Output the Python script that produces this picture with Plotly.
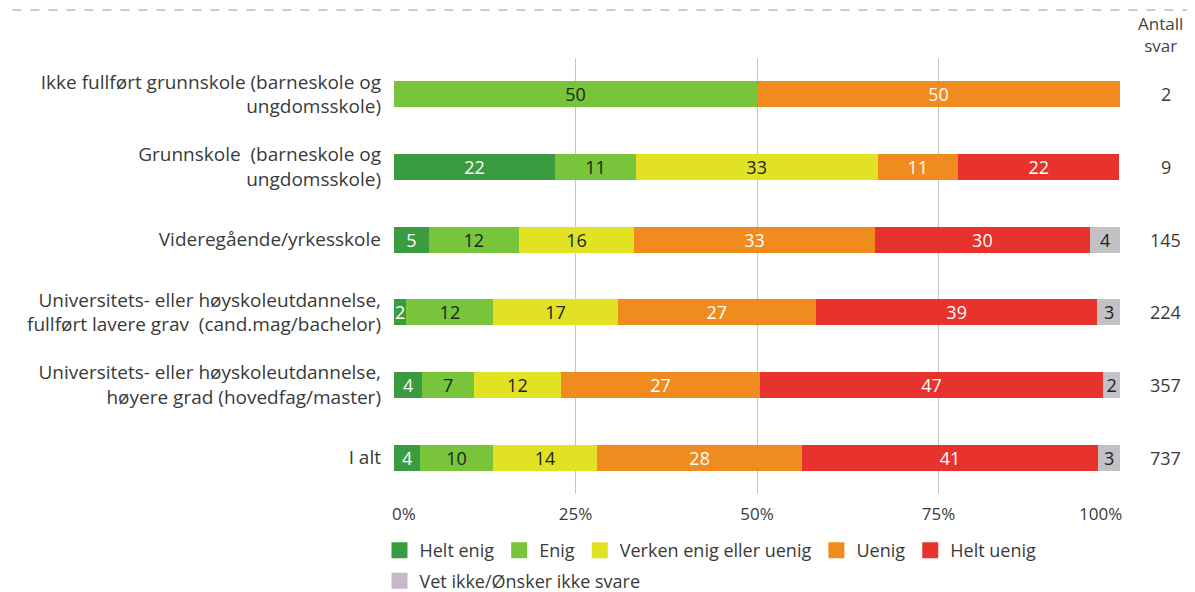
import plotly.graph_objects as go

categories = [
    "Ikke fullført grunnskole (barneskole og<br>ungdomsskole)",
    "Grunnskole  (barneskole og<br>ungdomsskole)",
    "Videregående/yrkesskole",
    "Universitets- eller høyskoleutdannelse,<br>fullført lavere grav  (cand.mag/bachelor)",
    "Universitets- eller høyskoleutdannelse,<br>høyere grad (hovedfag/master)",
    "I alt",
]
antall_svar = [2, 9, 145, 224, 357, 737]

series_names = ["Helt enig", "Enig", "Verken enig eller uenig", "Uenig", "Helt uenig",
                "Vet ikke/Ønsker ikke svare"]
helt_enig = [0, 22.2, 4.8, 1.7, 3.9, 3.6]
enig = [50, 11.1, 12.4, 12.0, 7.1, 10.0]
verken = [0, 33.3, 15.9, 17.1, 12.0, 14.4]
uenig = [50, 11.1, 33.1, 27.3, 27.4, 28.2]
helt_uenig = [0, 22.2, 29.7, 38.8, 47.3, 40.8]
vet_ikke = [0, 0, 4.1, 3.2, 2.3, 3.0]
series_values = [helt_enig, enig, verken, uenig, helt_uenig, vet_ikke]

tick_vals = [0, 25, 50, 75, 100]
tick_text = ["0%", "25%", "50%", "75%", "100%"]

bar_colors = ["#3b9b40", "#78c43a", "#e2e225", "#f08c1f", "#e8322d", "#c3c0c6"]
legend_colors = ["#3b9b40", "#78c43a", "#e2e225", "#f08c1f", "#e8322d", "#c4b9c8"]
text_colors = ["white", "#222222", "#222222", "white", "white", "#222222"]
legend_ids = ["legend", "legend", "legend", "legend", "legend", "legend2"]

FONT = "Open Sans"
TXT = "#3a3a3a"
ypos = list(range(len(categories)))

fig = go.Figure()
for name, vals, col, tcol in zip(series_names, series_values, bar_colors, text_colors):
    texts = [f"{round(v)}" if v > 0 else "" for v in vals]
    fig.add_trace(go.Bar(
        y=ypos, x=vals, name=name, orientation="h",
        marker=dict(color=col, line=dict(width=0)),
        width=0.36,
        text=texts, textposition="inside", insidetextanchor="middle",
        textangle=0, constraintext="none",
        insidetextfont=dict(color=tcol, size=18, family=FONT),
        hoverinfo="skip", showlegend=False,
    ))

# legend entries (square swatches)
for name, col, lid in zip(series_names, legend_colors, legend_ids):
    fig.add_trace(go.Scatter(
        x=[None], y=[None], mode="markers", name=name, legend=lid,
        marker=dict(symbol="square", size=18, color=col),
        hoverinfo="skip", showlegend=True,
    ))

fig.update_layout(
    barmode="stack",
    width=1187, height=584,
    margin=dict(l=386, r=75, t=50, b=98, autoexpand=False),
    paper_bgcolor="white", plot_bgcolor="white",
    font=dict(family=FONT, size=18, color=TXT),
    uniformtext=dict(mode="show", minsize=18),
    legend=dict(orientation="h", x=-0.02, xanchor="left", y=-0.087, yanchor="top",
                font=dict(size=18, color=TXT, family=FONT), traceorder="normal",
                itemwidth=30, tracegroupgap=0, bgcolor="rgba(0,0,0,0)"),
    legend2=dict(orientation="h", x=-0.02, xanchor="left", y=-0.157, yanchor="top",
                 font=dict(size=18, color=TXT, family=FONT),
                 itemwidth=30, bgcolor="rgba(0,0,0,0)"),
    xaxis=dict(range=[0, 100], tickvals=tick_vals,
               ticktext=["", tick_text[1], tick_text[2], tick_text[3], ""],
               showgrid=True, gridcolor="#c4c4c4", gridwidth=1,
               zeroline=False, showline=False, ticks="", automargin=False,
               ticklabelstandoff=8,
               tickfont=dict(size=17, color=TXT, family=FONT)),
    yaxis=dict(range=[5.5, -0.5], tickvals=ypos, ticktext=categories,
               showgrid=False, zeroline=False, showline=False, ticks="",
               ticklabelstandoff=12, automargin=False,
               tickfont=dict(size=19, color=TXT, family=FONT)),
)

# end tick labels kept inside the plot edges
fig.add_annotation(x=tick_vals[0], xref="x", y=0, yref="paper", yanchor="top", xanchor="left",
                   text=tick_text[0], showarrow=False, yshift=-6, xshift=-4,
                   font=dict(size=17, color=TXT, family=FONT))
fig.add_annotation(x=tick_vals[-1], xref="x", y=0, yref="paper", yanchor="top", xanchor="right",
                   text=tick_text[-1], showarrow=False, yshift=-6, xshift=4,
                   font=dict(size=17, color=TXT, family=FONT))

for y, n in zip(ypos, antall_svar):
    fig.add_annotation(x=1.063, xref="paper", y=y, yref="y", text=str(n),
                       xanchor="center", showarrow=False,
                       font=dict(size=18, color=TXT, family=FONT))
fig.add_annotation(x=1.056, xref="paper", y=1.054, yref="paper", yanchor="middle",
                   xanchor="center", text="Antall<br>svar", showarrow=False,
                   font=dict(size=17, color="#444444", family=FONT))
fig.add_shape(type="line", xref="paper", yref="paper", x0=-0.6, x1=1.2,
              y0=1.110, y1=1.110, line=dict(color="#999999", width=1, dash="dash"))

fig.write_html("out.html")
